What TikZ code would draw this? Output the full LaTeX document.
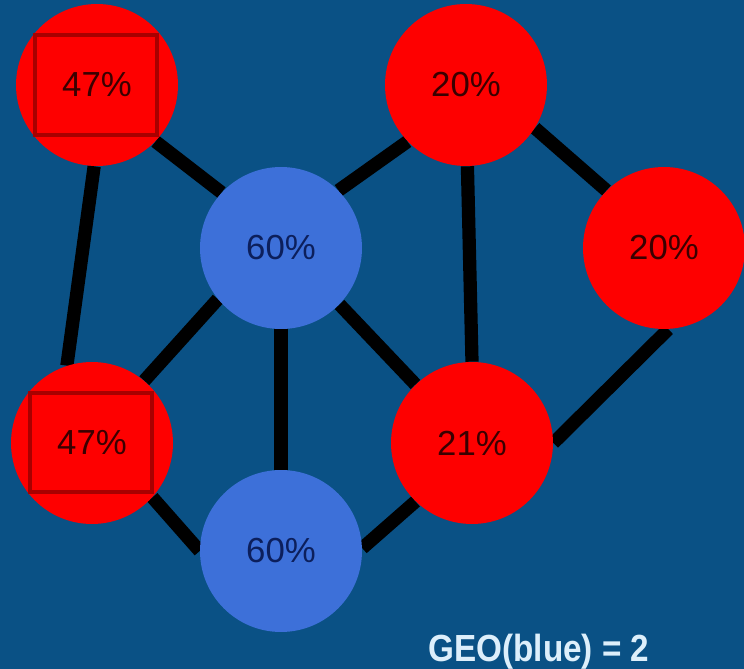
\documentclass[tikz,border=0pt]{standalone}
\usepackage{fontspec}
\setmainfont{Liberation Sans}
\usetikzlibrary{backgrounds}
\definecolor{bgblue}{HTML}{0A5185}
\definecolor{nodered}{HTML}{FE0000}
\definecolor{nodeblue}{HTML}{3D70D9}
\definecolor{boxred}{HTML}{A80000}
\definecolor{redtext}{HTML}{3A0000}
\definecolor{bluetext}{HTML}{0C1F5C}
\definecolor{captext}{HTML}{DDEFFB}
\begin{document}
\begin{tikzpicture}[x=0.02cm,y=-0.02cm,
  vertex/.style={circle,minimum size=3.24cm,inner sep=0pt,
    font=\fontsize{19.8pt}{24pt}\selectfont},
  redv/.style={vertex,fill=nodered,text=redtext},
  bluev/.style={vertex,fill=nodeblue,text=bluetext},
  markbox/.style={rectangle,draw=boxred,line width=0.08cm,
    minimum width=2.44cm,minimum height=2.0cm,inner sep=0pt},
  link/.style={line width=0.265cm,line cap=butt,black}]
  \useasboundingbox (0,0) rectangle (744,669);

  % vertices
  \node[redv]  (A) at (97,85)   {47\%};
  \node[redv]  (B) at (466,85)  {20\%};
  \node[bluev] (C) at (281,248) {60\%};
  \node[redv]  (D) at (664,248) {20\%};
  \node[redv]  (E) at (92,443)  {47\%};
  \node[redv]  (F) at (472,443) {21\%};
  \node[bluev] (G) at (281,551) {60\%};

  % marked vertices
  \node[markbox] (Abox) at (96,85) {};
  \node[markbox] (Ebox) at (91,442.5) {};

  % canvas and edges, behind the vertices
  \begin{pgfonlayer}{background}
    \fill[bgblue] (0,0) rectangle (744,669);
    \draw[link] (A.-44)  -- (C.137);
    \draw[link] (A.268)  -- (E.108);
    \draw[link] (C.45)   -- (B.224);
    \draw[link] (B.-32)  -- (D.135);
    \draw[link] (B.-89)  -- (F.90);
    \draw[link] (C.219)  -- (E.50);
    \draw[link] (C.270)  -- (G.90);
    \draw[link] (C.-44)  -- (F.134);
    \draw[link] (E.-42)  -- (G.180);
    \draw[link] (G.2)    -- (F.226);
    \draw[link] (D.-87)  -- (F.0);
  \end{pgfonlayer}

  % caption
  \node[anchor=base,text=captext,xscale=0.88,transform shape,
    font=\bfseries\fontsize{21.5pt}{26pt}\selectfont] (cap) at (539,661)
    {GEO(blue) = 2};
\end{tikzpicture}
\end{document}
